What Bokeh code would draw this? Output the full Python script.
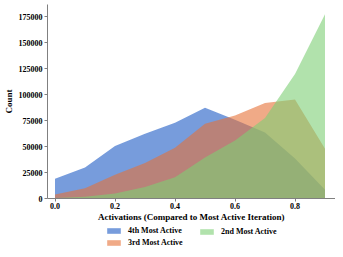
from bokeh.plotting import figure
from bokeh.layouts import column
from bokeh.models import Legend, LegendItem, FixedTicker, Range1d
from bokeh.embed import file_html
from bokeh.resources import INLINE

# ---- data ----
activations = [0.0, 0.1, 0.2, 0.3, 0.4, 0.5, 0.6, 0.7, 0.8, 0.9]
fourth_most = [19000, 30000, 50500, 62500, 73000, 87500, 76000, 63500, 38500, 8500]
third_most = [3800, 10000, 22800, 34200, 49000, 72000, 80000, 92000, 95500, 48000]
second_most = [600, 1600, 4700, 11000, 20500, 39500, 56000, 77500, 120000, 177500]

series_names = ["4th Most Active", "3rd Most Active", "2nd Most Active"]
series_colors = ["#1c5ac5", "#e67137", "#7dcf75"]

x_ticks = [0.0, 0.2, 0.4, 0.6, 0.8]
x_tick_labels = ["0.0", "0.2", "0.4", "0.6", "0.8"]
y_ticks = [0, 25000, 50000, 75000, 100000, 125000, 150000, 175000]
y_tick_labels = ["0", "25000", "50000", "75000", "100000", "125000", "150000", "175000"]

FONT = "Liberation Serif"
series_values = [fourth_most, third_most, second_most]

p = figure(width=335, height=224, output_backend="svg", toolbar_location=None,
           x_range=Range1d(-0.025, 0.935), y_range=Range1d(0, 187000),
           min_border_left=0, min_border_right=0, min_border_top=4, min_border_bottom=0)
p.outline_line_color = None
p.xgrid.visible = False
p.ygrid.visible = False

for vals, col in zip(series_values, series_colors):
    p.varea(x=activations, y1=[0] * len(vals), y2=vals, fill_color=col, fill_alpha=0.6)

for ax in (p.xaxis[0], p.yaxis[0]):
    ax.axis_line_color = "#808080"
    ax.major_tick_line_color = "#808080"
    ax.minor_tick_line_color = None
    ax.major_tick_out = 3
    ax.major_tick_in = 0
    ax.major_label_text_font = FONT
    ax.major_label_text_font_style = "bold"
    ax.major_label_text_font_size = "8px"
    ax.major_label_text_color = "black"
    ax.axis_label_text_font = FONT
    ax.axis_label_text_font_style = "bold"
    ax.axis_label_text_font_size = "9px"
    ax.axis_label_text_color = "black"
    ax.major_label_standoff = 2

p.xaxis[0].ticker = FixedTicker(ticks=x_ticks)
p.xaxis[0].major_label_overrides = {t: l for t, l in zip(x_ticks, x_tick_labels)}
p.yaxis[0].ticker = FixedTicker(ticks=y_ticks)
p.yaxis[0].major_label_overrides = {t: l for t, l in zip(y_ticks, y_tick_labels)}
p.xaxis[0].axis_label = "Activations (Compared to Most Active Iteration)"
p.yaxis[0].axis_label = "Count"
p.xaxis[0].major_label_standoff = 1
p.xaxis[0].axis_label_standoff = 0
p.yaxis[0].axis_label_standoff = 2

# ---- legend strip below the chart: same series, drawn outside its visible window ----
lp = figure(width=335, height=25, output_backend="svg", toolbar_location=None,
            x_axis_type=None, y_axis_type=None,
            x_range=Range1d(0, 1), y_range=Range1d(-2, -1),
            min_border_left=0, min_border_right=0, min_border_top=0, min_border_bottom=0)
lp.outline_line_color = None
lp.xgrid.visible = False
lp.ygrid.visible = False

swatches = {}
for name, vals, col in zip(series_names, series_values, series_colors):
    swatches[name] = lp.varea(x=activations, y1=[0] * len(vals), y2=vals,
                              fill_color=col, fill_alpha=0.6)

legend_style = dict(border_line_color=None, background_fill_alpha=0, padding=0, margin=0,
                    spacing=3, glyph_width=17, glyph_height=7, label_height=8,
                    label_standoff=6, label_text_font=FONT, label_text_font_style="bold",
                    label_text_font_size="8px", label_text_color="black")

left_items = [LegendItem(label=n, renderers=[swatches[n]])
              for n in ["4th Most Active", "3rd Most Active"]]
right_items = [LegendItem(label=n, renderers=[swatches[n]]) for n in ["2nd Most Active"]]
legend_left = Legend(items=left_items, orientation="vertical", location=(58, 2), **legend_style)
legend_right = Legend(items=right_items, orientation="vertical", location=(151, 13), **legend_style)
lp.add_layout(legend_left, "center")
lp.add_layout(legend_right, "center")

open("out.html", "w").write(file_html(column(p, lp, spacing=0), INLINE))
